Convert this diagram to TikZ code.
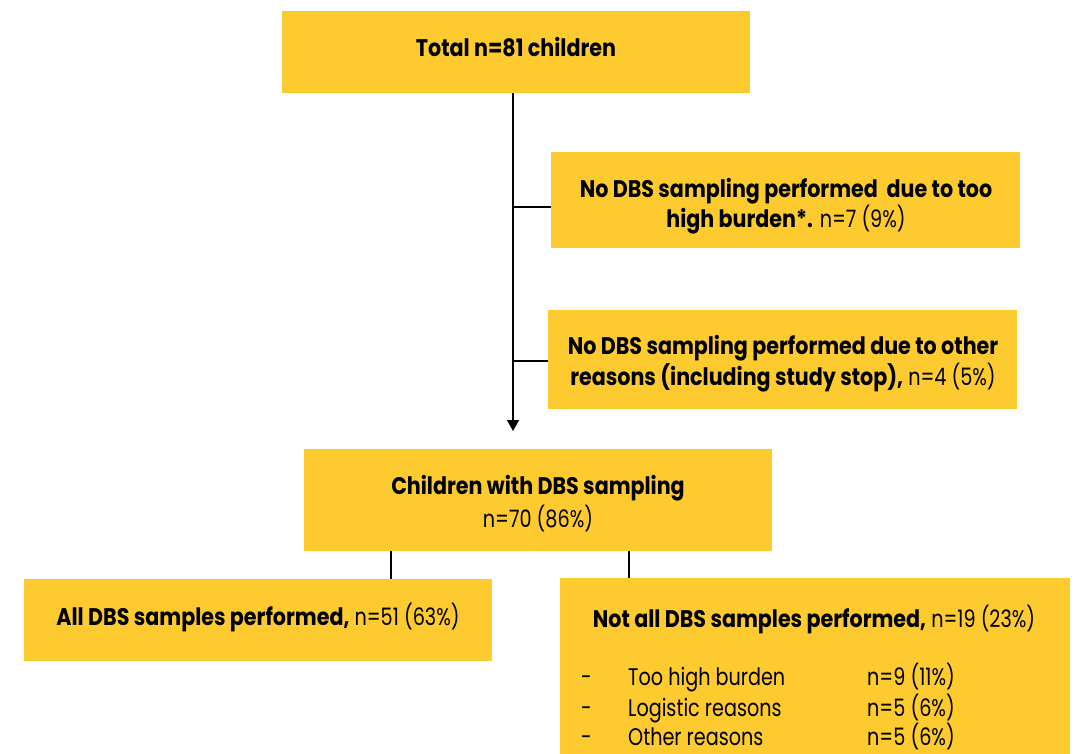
\documentclass[tikz,border=0pt]{standalone}
\usepackage{fontspec}
\setmainfont{Poppins}[UprightFeatures={FakeStretch=0.80}, BoldFeatures={FakeStretch=0.86}]
\usetikzlibrary{arrows.meta}
\definecolor{boxyellow}{RGB}{253,203,48}
\tikzset{
  box/.style={fill=boxyellow, draw=none, inner sep=0pt, anchor=north west},
  link/.style={line width=1.4pt, draw=black},
  txt/.style={inner sep=0pt, anchor=base, font=\fontsize{24}{30}\selectfont},
  txtl/.style={txt, anchor=base west},
}
\begin{document}
\begin{tikzpicture}[x=1pt,y=-1pt]
\useasboundingbox (0,0) rectangle (1076,754);
\node[box, minimum width=468pt, minimum height=82pt] (total) at (282,11) {};
\node[box, minimum width=469pt, minimum height=96pt] (burden) at (551,152) {};
\node[box, minimum width=469pt, minimum height=99pt] (other) at (548,310) {};
\node[box, minimum width=468pt, minimum height=102pt] (dbs) at (304,449) {};
\node[box, minimum width=468pt, minimum height=82pt] (all) at (24,579) {};
\node[box, minimum width=510pt, minimum height=176pt] (notall) at (560,578) {};
\node[txt] (totalt) at (516,57) {\textbf{Total n=81 children}};
\node[txt] (burdent1) at (786,198) {\textbf{No DBS sampling performed\ \ due to too}};
\node[txt] (burdent2) at (786,228) {\textbf{high burden*.} n=7 (9\%)};
\node[txt] (othert1) at (783,354) {\textbf{No DBS sampling performed due to other}};
\node[txt] (othert2) at (783,385) {\textbf{reasons (including study stop),} n=4 (5\%)};
\node[txt] (dbst1) at (538,494) {\textbf{Children with DBS sampling}};
\node[txt] (dbst2) at (538,527) {n=70 (86\%)};
\node[txt] (allt) at (258,625) {\textbf{All DBS samples performed,} n=51 (63\%)};
\node[txt] (notallt) at (814,627) {\textbf{Not all DBS samples performed,} n=19 (23\%)};
\node[txtl] (d1) at (581,685) {-};
\node[txtl] (l1) at (628,685) {Too high burden};
\node[txtl] (n1) at (867,685) {n=9 (11\%)};
\node[txtl] (d2) at (581,716) {-};
\node[txtl] (l2) at (628,716) {Logistic reasons};
\node[txtl] (n2) at (867,716) {n=5 (6\%)};
\node[txtl] (d3) at (581,745) {-};
\node[txtl] (l3) at (628,745) {Other reasons};
\node[txtl] (n3) at (867,745) {n=5 (6\%)};
\coordinate (top) at (513,93);
\coordinate (tip) at (513,431);
\coordinate (j1) at (513,207);
\coordinate (j2) at (513,361);
\draw[link, -{Triangle[width=12pt,length=11pt]}] (top) -- (tip);
\draw[link] (j1) -- (burden.west |- j1);
\draw[link] (j2) -- (other.west |- j2);
\draw[link] (dbs.south -| 391,0) -- (all.north -| 391,0);
\draw[link] (dbs.south -| 629,0) -- (notall.north -| 629,0);
\end{tikzpicture}
\end{document}
